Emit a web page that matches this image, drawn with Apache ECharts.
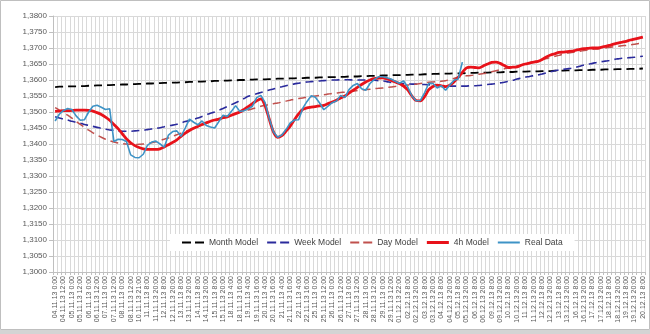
<!DOCTYPE html>
<html>
<head>
<meta charset="utf-8">
<script src="https://cdn.jsdelivr.net/npm/echarts@6/dist/echarts.min.js"></script>
<style>
html,body{margin:0;padding:0;background:#fff;}
#c{width:650px;height:334px;}
</style>
</head>
<body>
<div id="c"></div>
<script>
// Tick labels shown (every other category)
var tickLabels = ["04.11.13 0:00","04.11.13 12:00","05.11.13 0:00","05.11.13 12:00","06.11.13 0:00","06.11.13 12:00","07.11.13 0:00","07.11.13 12:00","08.11.13 0:00","08.11.13 12:00","10.11.13 21:00","11.11.13 8:00","11.11.13 20:00","12.11.13 8:00","12.11.13 20:00","13.11.13 8:00","13.11.13 20:00","14.11.13 8:00","14.11.13 20:00","15.11.13 8:00","15.11.13 20:00","18.11.13 4:00","18.11.13 16:00","19.11.13 4:00","19.11.13 16:00","20.11.13 4:00","20.11.13 16:00","21.11.13 4:00","21.11.13 16:00","22.11.13 4:00","22.11.13 16:00","25.11.13 0:00","25.11.13 12:00","26.11.13 0:00","26.11.13 12:00","27.11.13 0:00","27.11.13 12:00","28.11.13 0:00","28.11.13 12:00","29.11.13 0:00","29.11.13 12:00","01.12.13 22:00","02.12.13 8:00","02.12.13 20:00","03.12.13 8:00","03.12.13 20:00","04.12.13 8:00","04.12.13 20:00","05.12.13 8:00","05.12.13 20:00","06.12.13 8:00","06.12.13 20:00","09.12.13 8:00","09.12.13 20:00","10.12.13 8:00","10.12.13 20:00","11.12.13 8:00","11.12.13 20:00","12.12.13 8:00","12.12.13 20:00","13.12.13 8:00","13.12.13 20:00","16.12.13 8:00","16.12.13 20:00","17.12.13 8:00","17.12.13 20:00","18.12.13 8:00","18.12.13 20:00","19.12.13 8:00","19.12.13 20:00","20.12.13 8:00"];

var monthModel = [1.3578,1.3579,1.3579,1.3580,1.3580,1.3580,1.3581,1.3581,1.3582,1.3582,
1.3583,1.3583,1.3584,1.3584,1.3585,1.3585,1.3586,1.3586,1.3587,1.3587,
1.3588,1.3588,1.3589,1.3589,1.3590,1.3590,1.3591,1.3591,1.3592,1.3592,
1.3593,1.3593,1.3594,1.3594,1.3595,1.3595,1.3596,1.3596,1.3597,1.3597,
1.3598,1.3598,1.3599,1.3599,1.3600,1.3600,1.3601,1.3601,1.3602,1.3602,
1.3602,1.3603,1.3603,1.3604,1.3604,1.3604,1.3605,1.3605,1.3606,1.3606,
1.3607,1.3607,1.3607,1.3608,1.3608,1.3609,1.3609,1.3609,1.3610,1.3610,
1.3611,1.3611,1.3611,1.3612,1.3612,1.3613,1.3613,1.3613,1.3614,1.3614,
1.3615,1.3615,1.3615,1.3616,1.3616,1.3617,1.3617,1.3617,1.3618,1.3618,
1.3619,1.3619,1.3620,1.3620,1.3620,1.3621,1.3621,1.3621,1.3622,1.3622,
1.3622,1.3623,1.3623,1.3623,1.3624,1.3624,1.3624,1.3625,1.3625,1.3625,
1.3626,1.3626,1.3626,1.3627,1.3627,1.3627,1.3628,1.3628,1.3628,1.3629,
1.3629,1.3629,1.3630,1.3630,1.3630,1.3631,1.3631,1.3631,1.3632,1.3632,
1.3632,1.3633,1.3633,1.3633,1.3634,1.3634,1.3634,1.3635,1.3635,1.3635,1.3636];

var weekModel = [1.3485,1.3481,1.3478,1.3475,1.3471,1.3468,1.3465,1.3461,1.3458,1.3455,
1.3452,1.3449,1.3446,1.3444,1.3443,1.3441,1.3440,1.3440,1.3440,1.3441,
1.3442,1.3443,1.3445,1.3447,1.3449,1.3451,1.3454,1.3457,1.3459,1.3462,
1.3466,1.3470,1.3473,1.3477,1.3481,1.3486,1.3491,1.3496,1.3500,1.3505,
1.3511,1.3517,1.3523,1.3529,1.3535,1.3542,1.3549,1.3553,1.3557,1.3561,
1.3565,1.3569,1.3572,1.3576,1.3579,1.3582,1.3585,1.3588,1.3590,1.3592,
1.3594,1.3595,1.3596,1.3597,1.3598,1.3599,1.3600,1.3600,1.3601,1.3601,
1.3601,1.3600,1.3600,1.3600,1.3600,1.3599,1.3599,1.3598,1.3597,1.3595,
1.3592,1.3590,1.3589,1.3588,1.3588,1.3587,1.3587,1.3586,1.3586,1.3585,
1.3584,1.3583,1.3582,1.3581,1.3581,1.3581,1.3581,1.3581,1.3581,1.3582,
1.3582,1.3583,1.3584,1.3586,1.3587,1.3589,1.3591,1.3593,1.3596,1.3599,
1.3603,1.3606,1.3609,1.3611,1.3614,1.3616,1.3619,1.3622,1.3626,1.3629,
1.3631,1.3633,1.3635,1.3637,1.3640,1.3643,1.3647,1.3650,1.3652,1.3655,
1.3657,1.3659,1.3661,1.3664,1.3666,1.3668,1.3669,1.3670,1.3671,1.3673,1.3674];

var dayModel = [1.3514,1.3506,1.3498,1.3490,1.3481,1.3471,1.3461,1.3452,1.3443,1.3435,
1.3428,1.3421,1.3415,1.3410,1.3406,1.3403,1.3401,1.3400,1.3399,1.3398,
1.3399,1.3400,1.3402,1.3404,1.3407,1.3411,1.3415,1.3419,1.3424,1.3429,
1.3434,1.3439,1.3444,1.3450,1.3456,1.3461,1.3466,1.3471,1.3475,1.3479,
1.3483,1.3487,1.3491,1.3495,1.3499,1.3503,1.3506,1.3510,1.3514,1.3518,
1.3521,1.3523,1.3526,1.3528,1.3531,1.3534,1.3537,1.3540,1.3542,1.3544,
1.3546,1.3548,1.3550,1.3552,1.3554,1.3556,1.3558,1.3559,1.3561,1.3562,
1.3564,1.3565,1.3567,1.3569,1.3570,1.3571,1.3573,1.3574,1.3575,1.3577,
1.3578,1.3580,1.3581,1.3583,1.3584,1.3586,1.3587,1.3589,1.3591,1.3593,
1.3594,1.3595,1.3596,1.3598,1.3601,1.3605,1.3609,1.3611,1.3613,1.3614,
1.3616,1.3618,1.3620,1.3623,1.3626,1.3629,1.3632,1.3635,1.3638,1.3641,
1.3644,1.3647,1.3650,1.3653,1.3657,1.3660,1.3664,1.3667,1.3671,1.3674,
1.3677,1.3681,1.3684,1.3686,1.3688,1.3690,1.3692,1.3694,1.3696,1.3697,
1.3699,1.3700,1.3702,1.3704,1.3705,1.3707,1.3708,1.3710,1.3712,1.3714,1.3715];

var h4Model = [1.3502,1.3503,1.3504,1.3504,1.3505,1.3506,1.3506,1.3506,1.3505,1.3503,
1.3498,1.3492,1.3484,1.3474,1.3461,1.3448,1.3432,1.3416,1.3404,1.3395,
1.3389,1.3385,1.3383,1.3383,1.3383,1.3385,1.3391,1.3398,1.3405,1.3413,
1.3424,1.3434,1.3442,1.3449,1.3455,1.3461,1.3466,1.3471,1.3475,1.3478,
1.3482,1.3485,1.3490,1.3495,1.3500,1.3508,1.3517,1.3526,1.3535,1.3541,
1.3520,1.3478,1.3438,1.3421,1.3426,1.3440,1.3456,1.3476,1.3494,1.3508,
1.3513,1.3515,1.3517,1.3519,1.3521,1.3526,1.3531,1.3537,1.3544,1.3550,
1.3559,1.3568,1.3577,1.3586,1.3594,1.3600,1.3604,1.3606,1.3607,1.3604,
1.3599,1.3594,1.3589,1.3581,1.3569,1.3550,1.3536,1.3535,1.3548,1.3570,
1.3580,1.3584,1.3582,1.3579,1.3584,1.3594,1.3608,1.3624,1.3638,1.3640,
1.3639,1.3638,1.3644,1.3650,1.3655,1.3656,1.3652,1.3645,1.3639,1.3640,
1.3641,1.3646,1.3650,1.3653,1.3656,1.3658,1.3664,1.3672,1.3678,1.3682,
1.3686,1.3687,1.3689,1.3690,1.3693,1.3696,1.3698,1.3699,1.3700,1.3700,
1.3702,1.3705,1.3708,1.3712,1.3715,1.3718,1.3721,1.3725,1.3728,1.3731,1.3734];

var realData = [1.3472,1.3493,1.3505,1.3511,1.3508,1.3488,1.3474,1.3476,1.3500,1.3518,
1.3521,1.3515,1.3508,1.3510,1.3408,1.3415,1.3414,1.3408,1.3366,1.3358,
1.3357,1.3368,1.3396,1.3406,1.3409,1.3400,1.3390,1.3428,1.3439,1.3441,
1.3424,1.3450,1.3478,1.3468,1.3460,1.3472,1.3458,1.3453,1.3450,1.3470,
1.3490,1.3486,1.3502,1.3520,1.3502,1.3504,1.3510,1.3518,1.3545,1.3552,
1.3530,1.3480,1.3438,1.3421,1.3428,1.3445,1.3466,1.3475,1.3476,1.3512,
1.3533,1.3551,1.3546,1.3528,1.3507,1.3518,1.3529,1.3534,1.3552,1.3545,
1.3570,1.3583,1.3589,1.3573,1.3568,1.3589,1.3601,1.3610,1.3610,1.3607,
1.3603,1.3596,1.3590,1.3597,1.3578,1.3550,1.3535,1.3536,1.3560,1.3590,
1.3589,1.3575,1.3582,1.3568,1.3584,1.3599,1.3603,1.3656];

// Build categories: labelled entries alternate with unlabelled ones
var categories = [];
for (var k = 0; k < tickLabels.length; k++) {
  categories.push(tickLabels[k]);
  if (k < tickLabels.length - 1) categories.push('');
}

var dashIcon = 'path://M0,0h9v2h-9z M13,0h9v2h-9z';
var solidIcon = 'path://M0,0h22v3h-22z';

var chart = echarts.init(document.getElementById('c'), null, {renderer:'canvas'});
var font = 'Liberation Sans, Arial, sans-serif';
var option = {
  animation: false,
  backgroundColor: '#ffffff',
  textStyle: {fontFamily: font},
  grid: {left: 53, right: 5, top: 16, bottom: 62, containLabel: false},
  legend: {
    left: 170, top: 234,
    backgroundColor: '#ffffff',
    padding: [4, 12, 4, 12],
    itemWidth: 22, itemHeight: 8, itemGap: 9,
    textStyle: {fontSize: 8.5, color: '#404040', fontFamily: font},
    data: [
      {name: 'Month Model', icon: dashIcon},
      {name: 'Week Model', icon: dashIcon},
      {name: 'Day Model', icon: dashIcon},
      {name: '4h Model', icon: solidIcon},
      {name: 'Real Data', icon: 'path://M0,0h22v2h-22z'}
    ]
  },
  xAxis: {
    type: 'category',
    data: categories,
    boundaryGap: true,
    axisLine: {show: true, lineStyle: {color: '#BFBFBF', width: 1}},
    axisTick: {show: true, interval: 0, length: 3, lineStyle: {color: '#BFBFBF'}},
    splitLine: {show: true, interval: 0, lineStyle: {color: '#D9D9D9', width: 1}},
    axisLabel: {interval: 1, rotate: 90, fontSize: 7, color: '#595959', margin: 4, fontFamily: font}
  },
  yAxis: {
    type: 'value',
    min: 1.30, max: 1.38, interval: 0.005,
    axisLine: {show: true, lineStyle: {color: '#BFBFBF', width: 1}},
    axisTick: {show: true, length: 4, lineStyle: {color: '#BFBFBF'}},
    splitLine: {show: true, lineStyle: {color: '#D9D9D9', width: 1}},
    axisLabel: {fontSize: 8, color: '#595959', margin: 6, fontFamily: font,
      formatter: function (v) { return v.toFixed(4).replace('.', ','); }}
  },
  series: [
    {name: 'Month Model', type: 'line', data: monthModel, symbol: 'none', showSymbol: false,
     lineStyle: {color: '#000000', width: 1.8, type: [8, 5]}, itemStyle: {color: '#000000'}},
    {name: 'Week Model', type: 'line', data: weekModel, symbol: 'none', showSymbol: false, smooth: 0.3,
     lineStyle: {color: '#2A2A9C', width: 1.6, type: [8, 5]}, itemStyle: {color: '#2A2A9C'}},
    {name: 'Day Model', type: 'line', data: dayModel, symbol: 'none', showSymbol: false, smooth: 0.3,
     lineStyle: {color: '#C0504D', width: 1.5, type: [8, 5]}, itemStyle: {color: '#C0504D'}},
    {name: '4h Model', type: 'line', data: h4Model, symbol: 'none', showSymbol: false, smooth: 0.3,
     lineStyle: {color: '#E8121A', width: 2.8}, itemStyle: {color: '#E8121A'}},
    {name: 'Real Data', type: 'line', data: realData, symbol: 'none', showSymbol: false,
     lineStyle: {color: '#3D93C6', width: 1.6}, itemStyle: {color: '#3D93C6'}}
  ],
  graphic: [
    {type: 'rect', shape: {x: 0.5, y: 0.5, width: 649, height: 329}, style: {fill: null, stroke: '#BFBFBF', lineWidth: 1}, z: 100},
    {type: 'rect', shape: {x: 0, y: 330, width: 650, height: 4}, style: {fill: '#D4D4D4'}, z: 100}
  ]
};
chart.setOption(option);
</script>
</body>
</html>
